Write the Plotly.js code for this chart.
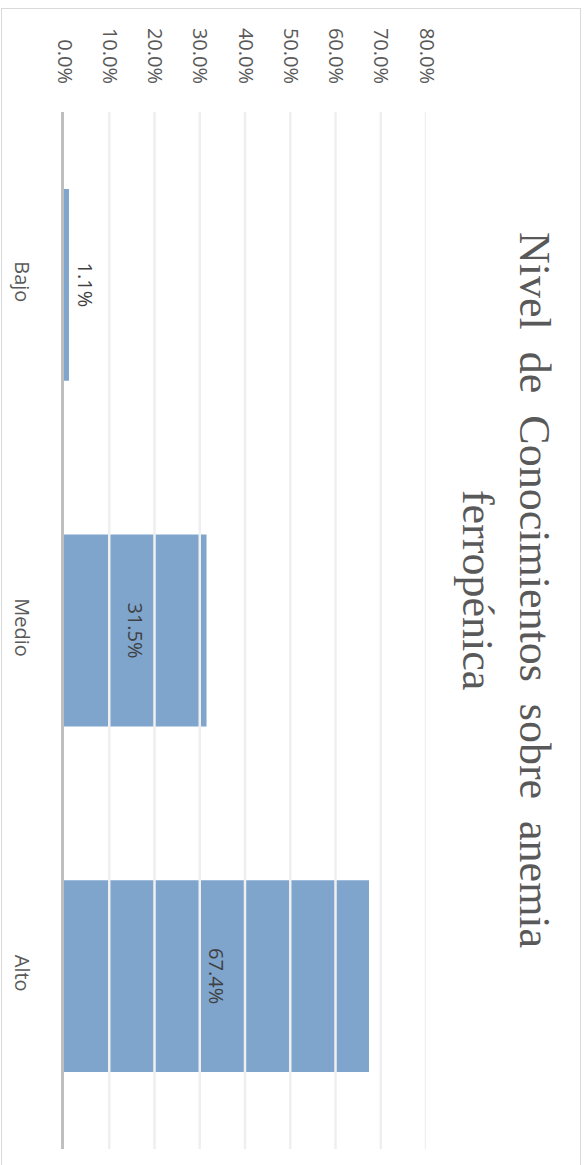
<!DOCTYPE html>
<html>
<head>
<meta charset="utf-8">
<script src="https://cdn.plot.ly/plotly-3.0.1.min.js"></script>
<style>
  html, body { margin: 0; padding: 0; background: #ffffff; }
  #wrap { position: relative; width: 584px; height: 1165px; overflow: hidden; }
  #frame { position: absolute; left: 1px; top: 8px; width: 580px; height: 1170px; border: 1px solid #d9d9d9; box-sizing: border-box; pointer-events: none; }
  #chart { position: absolute; left: 0; top: 0; width: 584px; height: 1165px; }
</style>
</head>
<body>
<div id="wrap">
  <div id="chart"></div>
  <div id="frame"></div>
</div>
<script>
// Data
var categories = ["Bajo", "Medio", "Alto"];
var values = [0.011, 0.315, 0.674];
var tickValues = [0, 0.1, 0.2, 0.3, 0.4, 0.5, 0.6, 0.7, 0.8];
var tickLabels = ["0.0%", "10.0%", "20.0%", "30.0%", "40.0%", "50.0%", "60.0%", "70.0%", "80.0%"];
var titleText = "Nivel  de  Conocimientos  sobre  anemia<br>ferropénica";

var barColor = "#7FA5CD";
var textColor = "#595959";

var trace = {
  type: "bar",
  orientation: "h",
  y: categories,
  x: values,
  marker: { color: barColor },
  texttemplate: "%{x:.1%}",
  textposition: "auto",
  textangle: 90,
  insidetextanchor: "middle",
  insidetextfont: { family: "Open Sans, sans-serif", size: 20, color: "#404040" },
  outsidetextfont: { family: "Open Sans, sans-serif", size: 20, color: "#404040" },
  constraintext: "none",
  cliponaxis: false,
  hoverinfo: "skip"
};

// gridlines drawn above bars (as in the reference)
var shapes = tickValues.slice(1).map(function (v) {
  return {
    type: "line", xref: "x", yref: "paper",
    x0: v, x1: v, y0: 0, y1: 1,
    layer: "above",
    line: { color: "#efefef", width: 2.5 }
  };
});

var layout = {
  width: 584,
  height: 1165,
  margin: { l: 64, r: 158, t: 112, b: 16, pad: 0 },
  paper_bgcolor: "rgba(0,0,0,0)",
  plot_bgcolor: "rgba(0,0,0,0)",
  showlegend: false,
  bargap: 0.445,
  xaxis: {
    side: "top",
    range: [0, 0.8],
    tickvals: tickValues,
    ticktext: tickLabels,
    tickangle: 90,
    ticks: "outside",
    ticklen: 20,
    tickcolor: "rgba(0,0,0,0)",
    showgrid: false,
    zeroline: false,
    showline: false,
    tickfont: { family: "Open Sans, sans-serif", size: 20, color: textColor },
    fixedrange: true
  },
  yaxis: {
    type: "category",
    autorange: "reversed",
    tickangle: 90,
    ticks: "outside",
    ticklen: 22,
    tickcolor: "rgba(0,0,0,0)",
    showgrid: false,
    zeroline: false,
    showline: true,
    linecolor: "#bfbfbf",
    linewidth: 3.5,
    tickfont: { family: "Open Sans, sans-serif", size: 20, color: textColor },
    fixedrange: true
  },
  shapes: shapes,
  annotations: [{
    xref: "paper", yref: "paper",
    x: 1.221, y: 0.539,
    xanchor: "center", yanchor: "middle",
    text: titleText,
    showarrow: false,
    textangle: 90,
    align: "center",
    font: { family: "Liberation Serif, serif", size: 44, color: textColor }
  }]
};

Plotly.newPlot("chart", [trace], layout, { displayModeBar: false, staticPlot: true });
</script>
</body>
</html>
